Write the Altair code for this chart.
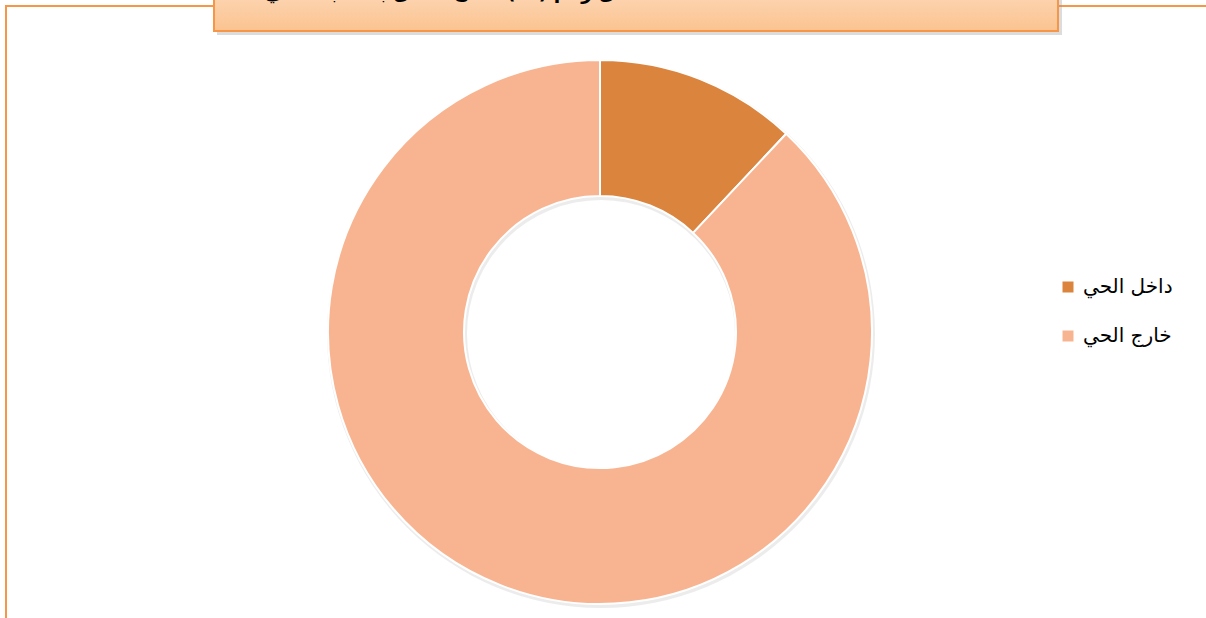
import altair as alt
import pandas as pd

categories = ["داخل الحي", "خارج الحي"]
values = [12, 88]
colors = ["#DA843E", "#F8B490"]
order = [1, 2]
title_text = "شكل رقم (١٢) مكان العمل بالنسبة للحي"

df = pd.DataFrame({"category": categories, "value": values, "order": order})
one = pd.DataFrame({"k": [1]})

border = alt.Chart(one).mark_rect(fill=None, stroke="#F79646", strokeWidth=2).encode(
    x=alt.value(6), x2=alt.value(1220), y=alt.value(6), y2=alt.value(640)
)

title_shadow = alt.Chart(one).mark_rect(fill="#9a9a9a", opacity=0.35).encode(
    x=alt.value(217), x2=alt.value(1062), y=alt.value(-20), y2=alt.value(35)
)

title_box = alt.Chart(one).mark_rect(
    fill=alt.Gradient(
        gradient="linear",
        stops=[alt.GradientStop(color="#FDDCBF", offset=0),
               alt.GradientStop(color="#FBC390", offset=1)],
        x1=0, x2=0, y1=0, y2=1,
    ),
    stroke="#F79646", strokeWidth=2,
).encode(x=alt.value(214), x2=alt.value(1058), y=alt.value(-20), y2=alt.value(31))

title = alt.Chart(one).mark_text(
    text=title_text, font="DejaVu Sans", fontSize=19, fontWeight="bold",
    color="black", align="center", baseline="alphabetic",
).encode(x=alt.value(455), y=alt.value(-1))

ring_shadow = alt.Chart(one).mark_arc(radius=274, radius2=134, color="#d4d4d4", opacity=0.45).encode(
    theta=alt.value(6.2832), x=alt.value(601), y=alt.value(334)
)

donut = alt.Chart(df).mark_arc(radius=272, radius2=136, stroke="white", strokeWidth=2).encode(
    theta=alt.Theta("value:Q", stack=True),
    order=alt.Order("order:Q"),
    color=alt.Color(
        "category:N",
        scale=alt.Scale(domain=categories, range=colors),
        legend=alt.Legend(
            title=None, orient="none", legendX=1058, legendY=277,
            symbolType="square", symbolSize=121, symbolStrokeWidth=0,
            labelFont="DejaVu Sans", labelFontSize=20, labelColor="black",
            rowPadding=29, labelOffset=5,
        ),
    ),
    x=alt.value(600), y=alt.value(332),
)

chart = alt.layer(border, title_shadow, title_box, title, ring_shadow, donut).properties(
    width=1206, height=618, padding=0, autosize=alt.AutoSizeParams(type="none"),
    background="white",
).configure_view(stroke=None)

chart.save("out.html", embed_options={"renderer": "svg", "actions": False})
